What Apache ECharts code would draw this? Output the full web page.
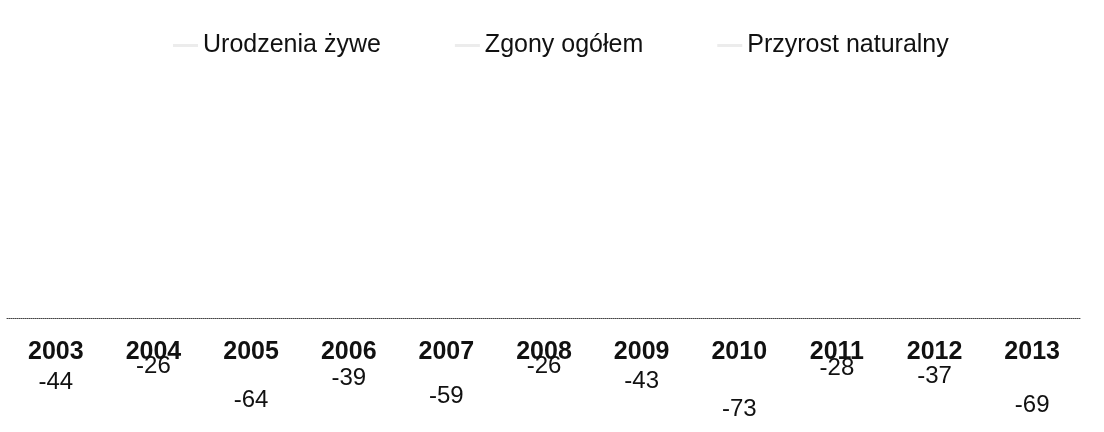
<!DOCTYPE html>
<html>
<head>
    <meta charset="utf-8">
    <title>Przyrost naturalny 2003-2013</title>
    <script src="https://cdn.jsdelivr.net/npm/echarts@6/dist/echarts.min.js"></script>
    <style>
        html, body {
            margin: 0;
            padding: 0;
            background: #fff;
        }
        #przyrost {
            width: 1104px;
            height: 432px;
        }
    </style>
</head>
<body>
<div id="przyrost"></div>
<script>
    // lata
    const years = ['2003', '2004', '2005', '2006', '2007', '2008', '2009', '2010', '2011', '2012', '2013']
    // słupki urodzeń i zgonów są na skanie nieczytelne
    const urodzenia = []
    const zgony = []
    // przyrost naturalny
    const przyrost = [-44, -26, -64, -39, -59, -26, -43, -73, -28, -37, -69]

    const font = '"Liberation Sans", Arial, sans-serif'

    const option = {
        animation: false,
        textStyle: {
            fontFamily: font
        },
        legend: {
            data: ['Urodzenia żywe', 'Zgony ogółem', 'Przyrost naturalny'],
            left: 168,
            top: 28,
            itemWidth: 25,
            itemHeight: 3,
            itemGap: 74,
            icon: 'rect',
            itemStyle: {
                color: '#ececec'
            },
            textStyle: {
                fontFamily: font,
                fontSize: 25,
                color: '#111'
            }
        },
        // dolna krawędź siatki = linia zera
        grid: {
            left: 7,
            right: 23,
            top: 74,
            bottom: 114,
            containLabel: false,
            outerBoundsMode: 'none'
        },
        xAxis: {
            type: 'category',
            data: years,
            position: 'bottom',
            axisTick: {show: false},
            axisLine: {
                show: true,
                onZero: false,
                lineStyle: {
                    color: '#444',
                    width: 1,
                    type: 'dotted'
                }
            },
            axisLabel: {
                show: true,
                interval: 0,
                margin: 22,
                hideOverlap: false,
                fontFamily: font,
                fontSize: 25,
                fontWeight: 'bold',
                color: '#111'
            }
        },
        yAxis: {
            type: 'value',
            min: 0,
            max: 270,
            show: false,
            splitLine: {show: false}
        },
        series: [
            {
                name: 'Urodzenia żywe',
                type: 'bar',
                data: urodzenia,
                itemStyle: {color: 'rgba(0,0,0,0)'}
            },
            {
                name: 'Zgony ogółem',
                type: 'bar',
                data: zgony,
                itemStyle: {color: 'rgba(0,0,0,0)'}
            },
            {
                name: 'Przyrost naturalny',
                type: 'bar',
                data: przyrost,
                clip: false,
                barGap: '-100%',
                barWidth: 30,
                itemStyle: {color: 'rgba(0,0,0,0)'},
                label: {
                    show: true,
                    position: 'bottom',
                    distance: 13,
                    fontFamily: font,
                    fontSize: 24,
                    color: '#111'
                }
            }
        ]
    }

    const chart = echarts.init(document.getElementById('przyrost'))
    chart.setOption(option)
    window.addEventListener('resize', () => chart.resize())
</script>
</body>
</html>
